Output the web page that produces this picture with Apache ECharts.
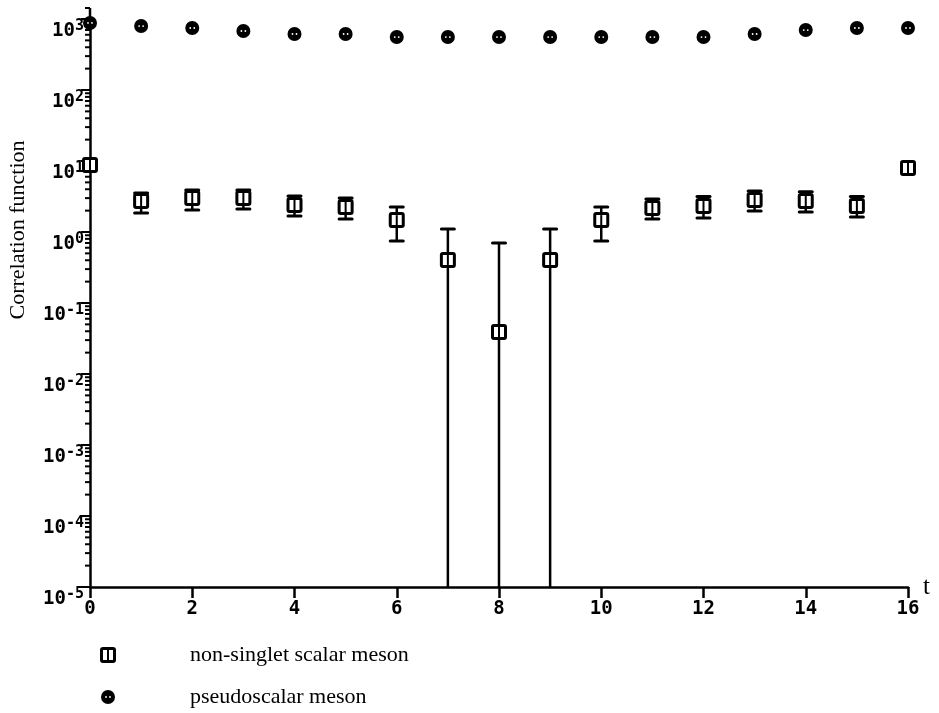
<!DOCTYPE html>
<html>
<head>
<meta charset="utf-8">
<script src="https://cdn.jsdelivr.net/npm/echarts@6/dist/echarts.min.js"></script>
<style>
  html, body { margin: 0; padding: 0; background: #ffffff; }
  #chart { width: 939px; height: 713px; }
</style>
</head>
<body>
<div id="chart"></div>
<script>
// Euclidean time slices of the lattice
const timeSlices = [0, 1, 2, 3, 4, 5, 6, 7, 8, 9, 10, 11, 12, 13, 14, 15, 16];

// Non-singlet scalar meson correlator with error-bar bounds
const scalarMeson = [8.8, 2.73, 3.01, 3.01, 2.40, 2.25, 1.47, 0.404, 0.0391, 0.404, 1.47, 2.18, 2.32, 2.82, 2.73, 2.32, 7.96];
const scalarLower = [8.8, 1.85, 2.04, 2.11, 1.68, 1.52, 0.746, 1e-5, 1e-5, 1e-5, 0.746, 1.52, 1.57, 1.98, 1.91, 1.63, 7.96];
const scalarUpper = [8.8, 3.54, 3.91, 3.91, 3.21, 3.01, 2.25, 1.10, 0.70, 1.10, 2.25, 2.92, 3.16, 3.78, 3.69, 3.16, 7.96];

// Pseudoscalar meson correlator
const pseudoscalarMeson = [880, 796, 747, 678, 615, 615, 557, 557, 557, 557, 557, 557, 557, 615, 699, 747, 747];

// Axis ranges
const tMin = 0, tMax = 16, tStep = 2;
const yMin = 1e-5, yMax = 1e3;

const tickFont = '"DejaVu Sans Mono", monospace';
const serifFont = '"Liberation Serif", "DejaVu Serif", serif';

function squareMarker(cx, cy) {
  return [
    { type: 'rect', shape: { x: cx - 6.5, y: cy - 6.5, width: 13, height: 13, r: 1.5 },
      style: { fill: '#fff', stroke: '#000', lineWidth: 3 } },
    { type: 'line', shape: { x1: cx, y1: cy - 5, x2: cx, y2: cy + 5 },
      style: { stroke: '#000', lineWidth: 2 } }
  ];
}

function circleMarker(cx, cy) {
  return [
    { type: 'circle', shape: { cx: cx, cy: cy, r: 7 }, style: { fill: '#000' } },
    { type: 'circle', shape: { cx: cx - 2, cy: cy, r: 0.9 }, style: { fill: '#fff' } },
    { type: 'circle', shape: { cx: cx + 2, cy: cy, r: 0.9 }, style: { fill: '#fff' } }
  ];
}

const scalarData = timeSlices.map((t, i) => [t, scalarMeson[i], scalarLower[i], scalarUpper[i]]);
const pseudoData = timeSlices.map((t, i) => [t, pseudoscalarMeson[i]]);

// Minor tick values of the logarithmic axis: 2..9 times each decade
const minorTicks = [];
for (let e = -5; e < 3; e++) {
  for (let k = 2; k <= 9; k++) minorTicks.push(k * Math.pow(10, e));
}

const chart = echarts.init(document.getElementById('chart'), null, { renderer: 'canvas' });

chart.setOption({
  backgroundColor: '#ffffff',
  animation: false,
  grid: { left: 90, right: 31, top: 19, bottom: 126, containLabel: false },
  xAxis: {
    type: 'value',
    min: tMin,
    max: tMax,
    interval: tStep,
    name: 't',
    nameLocation: 'end',
    nameGap: 15,
    nameTextStyle: { fontFamily: serifFont, fontSize: 25, color: '#000', verticalAlign: 'middle', padding: [4, 0, 0, 0] },
    axisLine: { show: true, lineStyle: { color: '#000', width: 2.5 } },
    axisTick: { show: true, inside: false, length: 11, lineStyle: { color: '#000', width: 2.5 } },
    axisLabel: { margin: 13, color: '#000', fontFamily: tickFont, fontWeight: 'bold', fontSize: 19 },
    splitLine: { show: false }
  },
  yAxis: {
    type: 'log',
    logBase: 10,
    min: yMin,
    max: yMax,
    interval: 1,
    axisLine: { show: true, lineStyle: { color: '#000', width: 2.5 } },
    axisTick: { show: true, inside: false, length: 9, lineStyle: { color: '#000', width: 2 } },
    axisLabel: {
      margin: 6,
      color: '#000',
      verticalAlign: 'top',
      formatter: function (v) {
        const e = Math.round(Math.log10(v));
        return '{b|10}{e|' + e + '}';
      },
      rich: {
        b: { fontFamily: tickFont, fontWeight: 'bold', fontSize: 19, color: '#000', lineHeight: 18 },
        e: { fontFamily: tickFont, fontWeight: 'bold', fontSize: 15, color: '#000', padding: [0, 0, 9, 0] }
      }
    },
    splitLine: { show: false }
  },
  series: [
    {
      // minor ticks on the log axis and the short overhang of the axis line
      type: 'custom',
      silent: true,
      clip: false,
      data: [0],
      renderItem: function (params, api) {
        const children = minorTicks.map(v => {
          const p = api.coord([tMin, v]);
          return { type: 'line', shape: { x1: p[0] - 5, y1: p[1], x2: p[0], y2: p[1] },
                   style: { stroke: '#000', lineWidth: 2 } };
        });
        const top = api.coord([tMin, yMax]);
        children.push({ type: 'line', shape: { x1: top[0], y1: top[1], x2: top[0], y2: top[1] - 11 },
                        style: { stroke: '#000', lineWidth: 2.5 } });
        children.push({ type: 'line', shape: { x1: top[0] - 5, y1: top[1] - 11, x2: top[0], y2: top[1] - 11 },
                        style: { stroke: '#000', lineWidth: 2 } });
        return { type: 'group', children: children };
      },
      z: 1
    },
    {
      name: 'non-singlet scalar meson',
      type: 'custom',
      clip: false,
      data: scalarData,
      encode: { x: 0, y: 1 },
      renderItem: function (params, api) {
        const t = api.value(0);
        const c = api.coord([t, api.value(1)]);
        const lo = api.coord([t, api.value(2)]);
        const hi = api.coord([t, api.value(3)]);
        const children = [];
        if (lo[1] - hi[1] > 1) {
          children.push({ type: 'line', shape: { x1: c[0], y1: hi[1], x2: c[0], y2: lo[1] },
                          style: { stroke: '#000', lineWidth: 2.5 } });
          children.push({ type: 'line', shape: { x1: c[0] - 6.5, y1: hi[1], x2: c[0] + 6.5, y2: hi[1] },
                          style: { stroke: '#000', lineWidth: 3, lineCap: 'round' } });
          if (api.value(2) > yMin) {
            children.push({ type: 'line', shape: { x1: c[0] - 6.5, y1: lo[1], x2: c[0] + 6.5, y2: lo[1] },
                            style: { stroke: '#000', lineWidth: 3, lineCap: 'round' } });
          }
        }
        return { type: 'group', children: children.concat(squareMarker(c[0], c[1])) };
      },
      z: 3
    },
    {
      name: 'pseudoscalar meson',
      type: 'custom',
      clip: false,
      data: pseudoData,
      encode: { x: 0, y: 1 },
      renderItem: function (params, api) {
        const c = api.coord([api.value(0), api.value(1)]);
        return { type: 'group', children: circleMarker(c[0], c[1]) };
      },
      z: 3
    }
  ],
  graphic: [
    {
      type: 'text',
      x: 18, y: 230,
      rotation: Math.PI / 2,
      style: { text: 'Correlation function', fontFamily: serifFont, fontSize: 22, fill: '#000',
               textAlign: 'center', textVerticalAlign: 'middle' }
    },
    { type: 'group', x: 108, y: 655, children: squareMarker(0, 0) },
    { type: 'text', x: 190, y: 655,
      style: { text: 'non-singlet scalar meson', fontFamily: serifFont, fontSize: 22, fill: '#000',
               textAlign: 'left', textVerticalAlign: 'middle' } },
    { type: 'group', x: 108, y: 697, children: circleMarker(0, 0) },
    { type: 'text', x: 190, y: 697,
      style: { text: 'pseudoscalar meson', fontFamily: serifFont, fontSize: 22, fill: '#000',
               textAlign: 'left', textVerticalAlign: 'middle' } }
  ]
});
</script>
</body>
</html>
